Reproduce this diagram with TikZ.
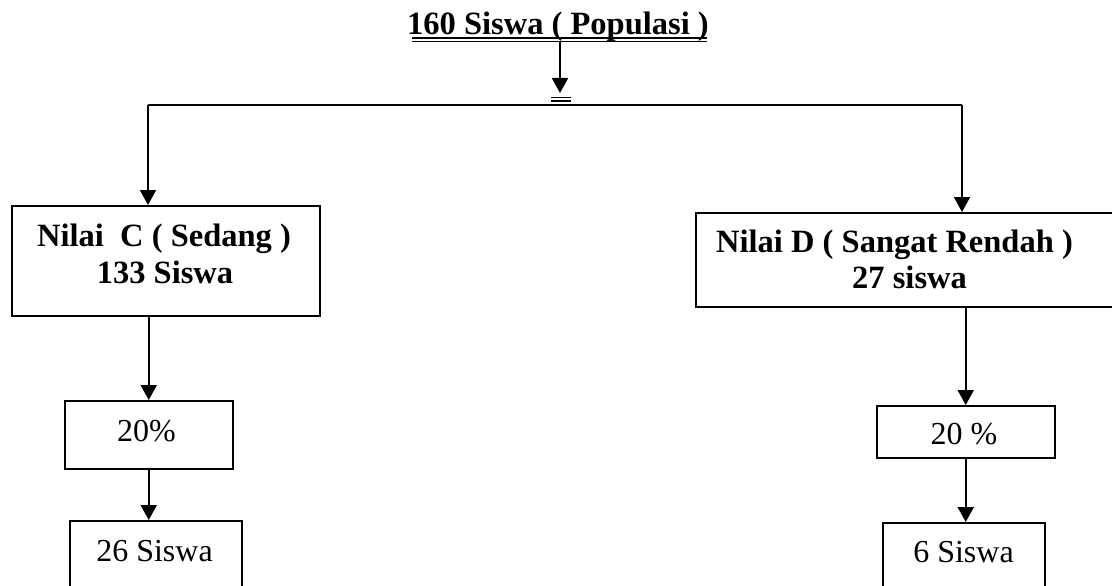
\documentclass[tikz,border=0pt]{standalone}
\usepackage{fontspec}
\setmainfont{Liberation Serif}
\usetikzlibrary{arrows.meta}
\tikzset{
  box/.style={draw, line width=1.8pt, rectangle, inner sep=0pt, anchor=north west},
  smallbox/.style={draw, line width=1.5pt, rectangle, inner sep=0pt, anchor=north west,
    font=\fontsize{32}{36}\selectfont},
  lbl/.style={inner sep=0pt, font=\fontsize{32.5}{36}\selectfont\bfseries},
  plbl/.style={inner sep=0pt, anchor=base, font=\fontsize{32}{36}\selectfont},
  conn/.style={line width=2pt},
  arr/.style={line width=2pt, -{Triangle[width=16pt,length=15pt]}},
}
\begin{document}
\begin{tikzpicture}[x=1pt, y=-1pt]
\useasboundingbox (0,0) rectangle (1112,586);
% title
\node[lbl, anchor=base] (title) at (558,35) {160 Siswa ( Populasi )};
\draw[line width=2pt] (412,38) -- (707,38);
\draw[line width=1.2pt] (412,41.5) -- (707,41.5);
% junction
\coordinate (top) at (560,42);
\coordinate (split) at (560,93);
\draw[arr] (top) -- (split);
\draw[line width=1.6pt] (551,97.5) -- (571,97.5);
\draw[line width=1.6pt] (551,101) -- (571,101);
\coordinate (hl) at (148,105);
\coordinate (hr) at (962,105);
\draw[conn] (hl) -- (hr);
% big boxes
\node[box, minimum width=308pt, minimum height=110pt] (cbox) at (11,205) {};
\node[box, minimum width=440pt, minimum height=94pt] (dbox) at (695,212) {};
\node[lbl, anchor=base] (ct1) at (164,246) {Nilai\ \ C ( Sedang )};
\node[lbl, anchor=base] (ct2) at (165,283) {133 Siswa};
\node[lbl, anchor=base west] (dt1) at (716,252) {Nilai D ( Sangat Rendah )};
\node[lbl, anchor=base west] (dt2) at (852,288) {27 siswa};
\draw[arr] (hl) -- (hl |- cbox.north);
\draw[arr] (hr) -- (hr |- dbox.north);
% small boxes left
\node[smallbox, minimum width=168pt, minimum height=68pt] (c20) at (64,400) {};
\node[plbl] (c20t) at (146.5,441) {20\%};
\node[smallbox, minimum width=172pt, minimum height=100pt] (c26) at (69,520) {};
\node[plbl] (c26t) at (154.5,561) {26 Siswa};
\draw[arr] (c20.north |- cbox.south) -- (c20.north);
\draw[arr] (c20.south) -- (c20.south |- c26.north);
% small boxes right
\node[smallbox, minimum width=178pt, minimum height=52pt] (r20) at (876,405) {};
\node[plbl] (r20t) at (964,444) {20 \%};
\node[smallbox, minimum width=162pt, minimum height=100pt] (r6) at (882,522) {};
\node[plbl] (r6t) at (963.5,562) {6 Siswa};
\draw[arr] (r20.north |- dbox.south) -- (r20.north);
\draw[arr] (r20.south) -- (r20.south |- r6.north);
\end{tikzpicture}
\end{document}
